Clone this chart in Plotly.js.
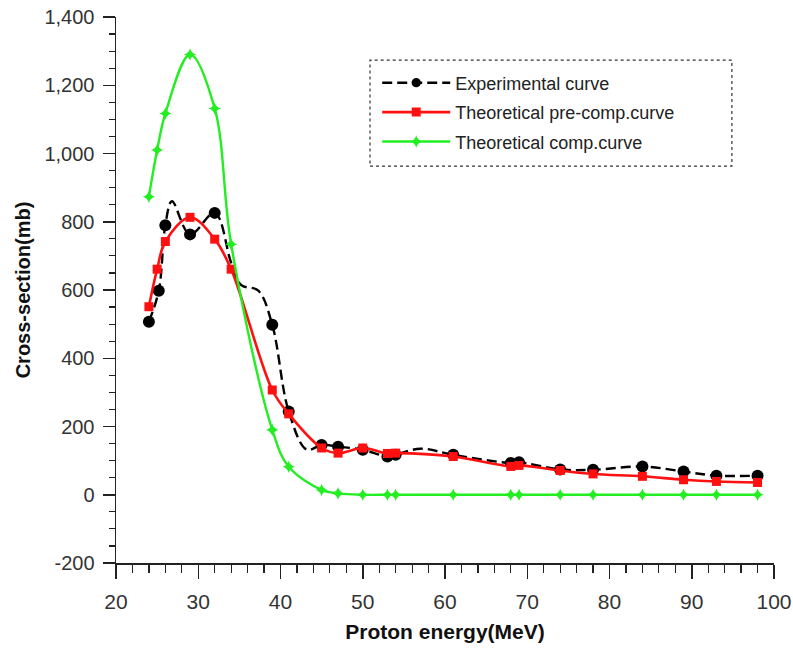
<!DOCTYPE html>
<html>
<head>
<meta charset="utf-8">
<script src="https://cdn.plot.ly/plotly-3.0.1.min.js"></script>
<style>html,body{margin:0;padding:0;background:#fff;}#chart{width:793px;height:650px;}</style>
</head>
<body>
<div id="chart"></div>
<script>
// ---- data ----
const expEnergy = [24, 25.2, 26, 26.8, 29, 32, 34, 35.2, 37.3, 39, 41, 43.2, 45, 47, 50, 53, 54, 57, 61, 68, 69, 74, 78, 84, 89, 93, 98];
const expXS     = [507, 598, 790, 860, 763, 826, 680, 615, 598, 498, 244, 132, 146, 141, 132, 112, 117, 135, 117, 93, 95, 74, 73, 83, 68, 56, 56];
const expMarked = [1, 1, 1, 0, 1, 1, 0, 0, 0, 1, 1, 0, 1, 1, 1, 1, 1, 0, 1, 1, 1, 1, 1, 1, 1, 1, 1];

const thEnergy  = [24, 25, 26, 29, 32, 34, 39, 41, 45, 47, 50, 53, 54, 61, 68, 69, 74, 78, 84, 89, 93, 98];
const preCompXS = [551, 661, 742, 813, 749, 661, 307, 237, 137, 122, 137, 121, 122, 112, 83, 86, 71, 61, 54, 44, 39, 36];
const compXS    = [873, 1010, 1117, 1290, 1132, 734, 190, 82, 14, 4, 0, 0, 0, 0, 0, 0, 0, 0, 0, 0, 0, 0];

const seriesNames = ["Experimental curve", "Theoretical pre-comp.curve", "Theoretical comp.curve"];
const xTickVals = [20, 30, 40, 50, 60, 70, 80, 90, 100];
const xTickText = ["20", "30", "40", "50", "60", "70", "80", "90", "100"];
const yTickVals = [-200, 0, 200, 400, 600, 800, 1000, 1200, 1400];
const yTickText = ["-200", "0", "200", "400", "600", "800", "1,000", "1,200", "1,400"];

const traces = [
  {
    x: expEnergy, y: expXS, name: seriesNames[0], legendgroup: 'a', type: 'scatter', mode: 'lines+markers',
    line: {color: '#000000', width: 2.4, dash: '10px,5px', shape: 'spline', smoothing: 1},
    marker: {symbol: 'circle', color: '#000000', opacity: 1, line: {width: 0}, size: expMarked.map(m => m ? 12 : 0)}
  },
  {
    x: thEnergy, y: preCompXS, name: seriesNames[1], legendgroup: 'b', type: 'scatter', mode: 'lines+markers',
    line: {color: '#ff1010', width: 2.6, shape: 'spline', smoothing: 1},
    marker: {symbol: 'square', color: '#ff1010', opacity: 1, size: 9}
  },
  {
    x: thEnergy, y: compXS, name: seriesNames[2], legendgroup: 'c', type: 'scatter', mode: 'lines+markers',
    line: {color: '#22ee22', width: 2.4, shape: 'spline', smoothing: 1},
    marker: {symbol: 'star-diamond', color: '#22ee22', opacity: 1, size: 9}
  }
];

const layout = {
  width: 793, height: 650,
  paper_bgcolor: '#ffffff', plot_bgcolor: '#ffffff',
  margin: {l: 116, r: 19, t: 17, b: 87},
  showlegend: true,
  font: {family: 'Liberation Sans, Arial, sans-serif', color: '#333333'},
  legend: {
    x: 0.397, y: 0.913, xanchor: 'left', yanchor: 'top',
    bgcolor: 'rgba(255,255,255,0)', borderwidth: 0,
    font: {size: 18, color: '#222222', family: 'Liberation Sans, Arial, sans-serif'},
    tracegroupgap: 3, itemwidth: 68
  },
  shapes: [{
    type: 'rect', xref: 'paper', yref: 'paper',
    x0: 0.386, x1: 0.936, y0: 0.727, y1: 0.921,
    line: {color: '#333333', width: 1.2, dash: 'dot'}, fillcolor: 'rgba(0,0,0,0)'
  }],
  xaxis: {
    range: [20, 100], tickvals: xTickVals, ticktext: xTickText, ticklabeloverflow: 'allow',
    ticklabelstandoff: 5,
    showline: true, linecolor: '#222222', linewidth: 1.5,
    ticks: 'outside', ticklen: 14, tickwidth: 1.5, tickcolor: '#222222',
    minor: {dtick: 2, ticks: 'outside', ticklen: 8, tickwidth: 1.2, tickcolor: '#222222'},
    showgrid: false, zeroline: false,
    tickfont: {family: 'Liberation Sans, Arial, sans-serif', size: 21, color: '#333333'},
    title: {text: 'Proton energy(MeV)', font: {family: 'Liberation Sans, Arial, sans-serif', size: 21, color: '#111111', weight: 'bold'}, standoff: 12}
  },
  yaxis: {
    range: [-200, 1400], tickvals: yTickVals, ticktext: yTickText,
    ticklabelstandoff: 4,
    showline: true, linecolor: '#222222', linewidth: 1.5,
    ticks: 'outside', ticklen: 12, tickwidth: 1.5, tickcolor: '#222222',
    minor: {dtick: 50, ticks: 'outside', ticklen: 6, tickwidth: 1.2, tickcolor: '#222222'},
    showgrid: false, zeroline: false,
    tickfont: {family: 'Liberation Sans, Arial, sans-serif', size: 20, color: '#333333'},
    title: {text: 'Cross-section(mb)', font: {family: 'Liberation Sans, Arial, sans-serif', size: 20, color: '#111111', weight: 'bold'}, standoff: 8}
  }
};

Plotly.newPlot('chart', traces, layout, {displayModeBar: false, staticPlot: true});
</script>
</body>
</html>
